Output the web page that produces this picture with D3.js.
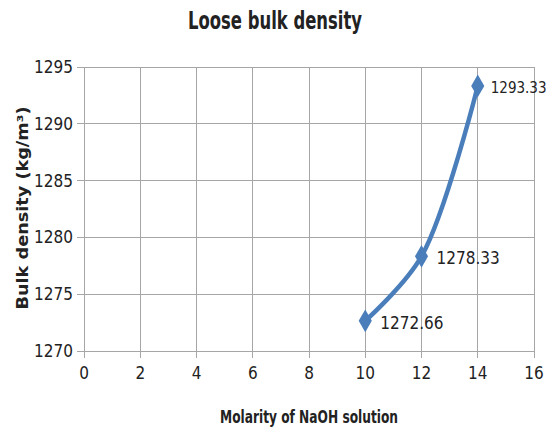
<!DOCTYPE html>
<head>
<meta charset="utf-8">
<script src="https://d3js.org/d3.v7.min.js"></script>
<style>
  body { margin: 0; background: #fff; }
  svg text { font-family: "DejaVu Sans Condensed", "Liberation Sans Narrow", "Open Sans", sans-serif; fill: #222; }
  .grid line { stroke: #a6a6a6; stroke-width: 1px; shape-rendering: crispEdges; }
</style>
</head>
<body>
<div id="vis"></div>
<script>
  // data
  var molarity = [10, 12, 14];
  var density = [1272.66, 1278.33, 1293.33];
  var pointLabels = ["1272.66", "1278.33", "1293.33"];
  var xTicks = [0, 2, 4, 6, 8, 10, 12, 14, 16];
  var yTicks = [1270, 1275, 1280, 1285, 1290, 1295];

  var W = 546, H = 432;
  var margin = {top: 67, right: 12, bottom: 81, left: 84};
  var width = W - margin.left - margin.right,
      height = H - margin.top - margin.bottom;

  var svg = d3.select("#vis").append("svg")
      .attr("width", W).attr("height", H);

  var x = d3.scaleLinear().domain([0, 16]).range([0, width]);
  var y = d3.scaleLinear().domain([1270, 1295]).range([height, 0]);

  var g = svg.append("g")
      .attr("transform", "translate(" + margin.left + "," + margin.top + ")");

  // gridlines, with the little outside ticks
  var grid = g.append("g").attr("class", "grid");
  grid.selectAll(".h").data(yTicks).enter().append("line")
      .attr("x1", -7).attr("x2", width)
      .attr("y1", function(d) { return y(d); }).attr("y2", function(d) { return y(d); });
  grid.selectAll(".v").data(xTicks).enter().append("line")
      .attr("y1", 0).attr("y2", height + 7)
      .attr("x1", function(d) { return x(d); }).attr("x2", function(d) { return x(d); });

  // tick labels
  g.selectAll(".ylab").data(yTicks).enter().append("text")
      .attr("x", -11).attr("y", function(d) { return y(d); })
      .attr("dy", "0.35em").attr("text-anchor", "end")
      .style("font-size", "17px")
      .text(function(d) { return d; });
  g.selectAll(".xlab").data(xTicks).enter().append("text")
      .attr("x", function(d) { return x(d); }).attr("y", height + 28)
      .attr("text-anchor", "middle")
      .style("font-size", "17px")
      .text(function(d) { return d; });

  // series
  var pts = molarity.map(function(m, i) { return {x: m, y: density[i], label: pointLabels[i]}; });

  var line = d3.line()
      .x(function(d) { return x(d.x); })
      .y(function(d) { return y(d.y); })
      .curve(d3.curveCatmullRom.alpha(0.5));

  g.append("path").datum(pts)
      .attr("d", line)
      .attr("fill", "none")
      .attr("stroke", "#4a7ebb")
      .attr("stroke-width", 4.5)
      .attr("stroke-linecap", "round");

  g.selectAll(".pt").data(pts).enter().append("path")
      .attr("d", d3.symbol().type(d3.symbolDiamond).size(150))
      .attr("transform", function(d) { return "translate(" + x(d.x) + "," + y(d.y) + ")"; })
      .attr("fill", "#4a7ebb");

  // last label sits against the right edge, so it is a touch smaller and closer
  g.selectAll(".plab").data(pts).enter().append("text")
      .attr("x", function(d, i) { return x(d.x) + (i == pts.length - 1 ? 13 : 15); })
      .attr("y", function(d) { return y(d.y) + 2; })
      .attr("dy", "0.35em")
      .style("font-size", function(d, i) { return i == pts.length - 1 ? "15px" : "17px"; })
      .text(function(d) { return d.label; });

  // titles
  svg.append("text")
      .attr("x", 275).attr("y", 29)
      .attr("text-anchor", "middle")
      .style("font-size", "24px").style("font-weight", "bold")
      .attr("textLength", 174).attr("lengthAdjust", "spacingAndGlyphs")
      .text("Loose bulk density");

  svg.append("text")
      .attr("x", 309).attr("y", 423)
      .attr("text-anchor", "middle")
      .style("font-size", "17px").style("font-weight", "bold")
      .attr("textLength", 178).attr("lengthAdjust", "spacingAndGlyphs")
      .text("Molarity of NaOH solution");

  svg.append("text")
      .attr("transform", "translate(28,208) rotate(-90)")
      .attr("text-anchor", "middle")
      .style("font-family", "'DejaVu Sans', sans-serif")
      .style("font-size", "15px").style("font-weight", "bold")
      .attr("textLength", 203).attr("lengthAdjust", "spacingAndGlyphs")
      .text("Bulk density (kg/m³)");
</script>
</body>
